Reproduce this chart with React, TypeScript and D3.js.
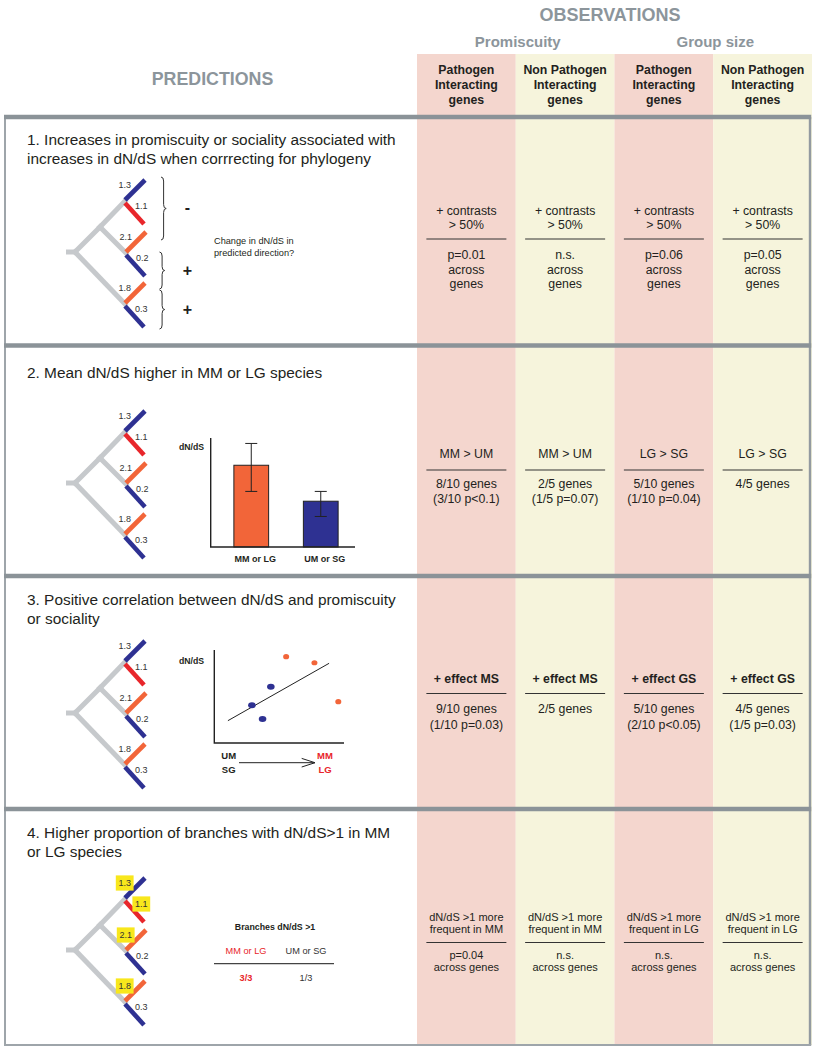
import React from "react";
import * as d3 from "d3";

const FONT = "'Liberation Sans', Arial, Helvetica, sans-serif";
const C_BLUE = "#2e3192";
const C_RED = "#e8262b";
const C_ORANGE = "#f26539";
const C_GRAY_BRANCH = "#c6c9cc";
const C_HEAD = "#8c959b";
const C_PINK = "#f4d6ce";
const C_YELLOW = "#f6f4dc";
const C_SEP = "#8b9398";
const C_TEXT = "#231f20";
const C_HL = "#f8e71c";

// ---------- DATA ----------
const observationTitle = "OBSERVATIONS";
const predictionHeader = "PREDICTIONS";
const groupLabels = ["Promiscuity", "Group size"];
const columnLabels = [
  ["Pathogen", "Interacting", "genes"],
  ["Non Pathogen", "Interacting", "genes"],
  ["Pathogen", "Interacting", "genes"],
  ["Non Pathogen", "Interacting", "genes"],
];
const columnFills = [C_PINK, C_YELLOW, C_PINK, C_YELLOW];

const predictionTitles = [
  ["1. Increases in promiscuity or sociality associated with", "increases in dN/dS when corrrecting for phylogeny"],
  ["2. Mean dN/dS higher in MM or LG species"],
  ["3. Positive correlation between dN/dS and promiscuity", "or sociality"],
  ["4. Higher proportion of branches with dN/dS>1 in MM", "or LG species"],
];

const cellTop = [
  [["+ contrasts", "> 50%"], ["+ contrasts", "> 50%"], ["+ contrasts", "> 50%"], ["+ contrasts", "> 50%"]],
  [["MM > UM"], ["MM > UM"], ["LG > SG"], ["LG > SG"]],
  [["+ effect MS"], ["+ effect MS"], ["+ effect GS"], ["+ effect GS"]],
  [["dN/dS >1 more", "frequent in MM"], ["dN/dS >1 more", "frequent in MM"], ["dN/dS >1 more", "frequent in LG"], ["dN/dS >1 more", "frequent in LG"]],
];
const cellBottom = [
  [["p=0.01", "across", "genes"], ["n.s.", "across", "genes"], ["p=0.06", "across", "genes"], ["p=0.05", "across", "genes"]],
  [["8/10 genes", "(3/10 p<0.1)"], ["2/5 genes", "(1/5 p=0.07)"], ["5/10 genes", "(1/10 p=0.04)"], ["4/5 genes"]],
  [["9/10 genes", "(1/10 p=0.03)"], ["2/5 genes"], ["5/10 genes", "(2/10 p<0.05)"], ["4/5 genes", "(1/5 p=0.03)"]],
  [["p=0.04", "across genes"], ["n.s.", "across genes"], ["n.s.", "across genes"], ["n.s.", "across genes"]],
];

// tree leaves (top to bottom)
const treeLeafLabels = ["1.3", "1.1", "2.1", "0.2", "1.8", "0.3"];
const treeLeafColors = [C_BLUE, C_RED, C_ORANGE, C_BLUE, C_ORANGE, C_BLUE];
const highlightedLeaves = ["1.3", "1.1", "2.1", "1.8"];

// row 1 braces
const braceSigns = ["-", "+", "+"];
const changeText = ["Change in dN/dS in", "predicted direction?"];

// row 2 bar chart
const barCategories = ["MM or LG", "UM or SG"];
const barMeans = [0.75, 0.42];
const barLow = [0.51, 0.28];
const barHigh = [0.95, 0.51];
const barColors = [C_ORANGE, C_BLUE];

// row 3 scatter
const scatterX = [5.54, 7.72, 9.56, 4.36, 2.9, 3.72];
const scatterY = [9.28, 8.63, 4.44, 6.05, 4.05, 2.58];
const scatterGroup = ["MM", "MM", "MM", "UM", "UM", "UM"];
const trendX = [1.05, 8.85];
const trendY = [2.4, 8.57];

// row 4 mini table
const branchesTitle = "Branches dN/dS >1";
const branchesCats = ["MM or LG", "UM or SG"];
const branchesVals = ["3/3", "1/3"];

// ---------- LAYOUT ----------
const W = 816;
const H = 1050;
const FRAME_L = 5;
const FRAME_R = 810;
const FRAME_B = 1045;
const sepY = [117, 345.5, 576, 809];
const colScale = d3.scaleBand<number>().domain([0, 1, 2, 3]).range([417, 812]);

const rowsCfg = [
  { titleY: 140, treeY: 252, ruleY: 239, topY: 210.7, botY: 255, lh: 14.4, fs: 12.3, bold: false },
  { titleY: 373, treeY: 483, ruleY: 470, topY: 454, botY: 484, lh: 15, fs: 12.3, bold: false },
  { titleY: 600, treeY: 713, ruleY: 693.5, topY: 679, botY: 708.5, lh: 15.7, fs: 12.3, bold: true },
  { titleY: 833, treeY: 950, ruleY: 942.5, topY: 916.7, botY: 955, lh: 12.3, fs: 11, bold: false },
];
const TREE_X = 75;

function T(props: any) {
  const { children, ...rest } = props;
  return (
    <text fontFamily={FONT} dy="0.35em" {...rest}>
      {children}
    </text>
  );
}

function Tree({ x, y, highlight }: { x: number; y: number; highlight: boolean }) {
  // topology: root -> (A, D); A -> (B, C); B, C, D each have an upper and a lower leaf
  const R = [0, 0];
  const A = [25, -25];
  const terminals = [
    [50, -51],
    [51, 1],
    [50, 52],
  ];
  const grayEdges = [
    [[-9, 0], R],
    [R, A],
    [A, terminals[0]],
    [A, terminals[1]],
    [R, terminals[2]],
  ];
  const leaves = treeLeafLabels.map((lab, i) => {
    const node = terminals[Math.floor(i / 2)];
    const up = i % 2 === 0;
    const start = up ? [node[0], node[1] - 1] : [node[0], node[1] + 2];
    const tip = up ? [node[0] + 20, node[1] - 21] : [node[0] + 19, node[1] + 23];
    const lx = up ? node[0] + 6 : node[0] + 10;
    const ly = up ? node[1] - 16 : node[1] + 5;
    return { lab, color: treeLeafColors[i], start, tip, lx, ly, up };
  });
  const fs = 9;
  const tw = 12.6;
  return (
    <g transform={`translate(${x},${y})`}>
      {grayEdges.map((e, i) => (
        <line key={i} x1={e[0][0]} y1={e[0][1]} x2={e[1][0]} y2={e[1][1]} stroke={C_GRAY_BRANCH} strokeWidth={5} strokeLinecap={i === 0 ? "butt" : "square"} />
      ))}
      {leaves.map((l, i) => (
        <line key={i} x1={l.start[0]} y1={l.start[1]} x2={l.tip[0]} y2={l.tip[1]} stroke={l.color} strokeWidth={4.6} />
      ))}
      {highlight &&
        leaves
          .filter((l) => highlightedLeaves.includes(l.lab))
          .map((l, i) => {
            const x0 = l.up ? l.lx - tw : l.lx;
            return <rect key={i} x={x0 - 2.6} y={l.ly - 7.6} width={tw + 5.2} height={15.2} fill={C_HL} />;
          })}
      {leaves.map((l, i) => (
        <T key={i} x={l.lx} y={l.ly} fontSize={fs} fill="#333" textAnchor={l.up ? "end" : "start"}>
          {l.lab}
        </T>
      ))}
    </g>
  );
}

function bracePath(x: number, y0: number, y1: number, w: number) {
  const ym = (y0 + y1) / 2;
  const q = 4;
  return `M${x},${y0} Q${x + w},${y0} ${x + w},${y0 + q} L${x + w},${ym - q} Q${x + w},${ym} ${x + 2 * w},${ym} Q${x + w},${ym} ${x + w},${ym + q} L${x + w},${y1 - q} Q${x + w},${y1} ${x},${y1}`;
}

function Braces({ x, y }: { x: number; y: number }) {
  const spans = [
    [-75, -12],
    [0, 37],
    [38, 77],
  ];
  return (
    <g transform={`translate(${x},${y})`}>
      {spans.map((s, i) => (
        <g key={i}>
          <path d={bracePath(i === 0 ? 86 : 84.5, s[0], s[1], 2.6)} fill="none" stroke="#333" strokeWidth={1} />
          <T x={112.5} y={(s[0] + s[1]) / 2 + (i === 0 ? -1 : 0)} fontSize={16} fontWeight="bold" textAnchor="middle" fill={C_TEXT}>
            {braceSigns[i]}
          </T>
        </g>
      ))}
      {changeText.map((t, i) => (
        <T key={i} x={139} y={-11 + i * 12} fontSize={9.2} fill={C_TEXT}>
          {t}
        </T>
      ))}
    </g>
  );
}

function BarChart() {
  const x0 = 210.7, yb = 547, yt = 438, xr = 355;
  const xs = d3.scaleBand<string>().domain(barCategories).range([216.5, 355.5]).paddingInner(0.5).paddingOuter(0.25);
  const ys = d3.scaleLinear().domain([0, 1]).range([yb, yt]);
  return (
    <g>
      {barCategories.map((c, i) => {
        const bx = xs(c)!;
        const bw = xs.bandwidth();
        const cx = bx + bw / 2;
        return (
          <g key={c}>
            <rect x={bx} y={ys(barMeans[i])} width={bw} height={yb - ys(barMeans[i])} fill={barColors[i]} stroke="#222" strokeWidth={1} />
            <line x1={cx} x2={cx} y1={ys(barLow[i])} y2={ys(barHigh[i])} stroke="#222" strokeWidth={1} />
            <line x1={cx - 6} x2={cx + 6} y1={ys(barHigh[i])} y2={ys(barHigh[i])} stroke="#222" strokeWidth={1} />
            <line x1={cx - 6} x2={cx + 6} y1={ys(barLow[i])} y2={ys(barLow[i])} stroke="#222" strokeWidth={1} />
            <T x={cx + 4} y={559} fontSize={9} fontWeight="bold" textAnchor="middle" fill={C_TEXT}>
              {c}
            </T>
          </g>
        );
      })}
      <path d={`M${x0},${yt} V${yb} H${xr}`} fill="none" stroke="#222" strokeWidth={1.4} />
      <T x={204} y={447} fontSize={8.7} fontWeight="bold" textAnchor="end" fill={C_TEXT}>
        dN/dS
      </T>
    </g>
  );
}

function Scatter() {
  const x0 = 214.3, yb = 743, yt = 650, xr = 344;
  const xs = d3.scaleLinear().domain([0, 10]).range([x0, xr]);
  const ys = d3.scaleLinear().domain([0, 10]).range([yb, yt]);
  const line = d3.line<number>().x((d) => xs(trendX[d])).y((d) => ys(trendY[d]));
  return (
    <g>
      <path d={`M${x0},${yt} V${yb} H${xr}`} fill="none" stroke="#222" strokeWidth={1.4} />
      <path d={line([0, 1])!} stroke="#222" strokeWidth={1} fill="none" />
      {scatterX.map((v, i) =>
        scatterGroup[i] === "MM" ? (
          <ellipse key={i} cx={xs(v)} cy={ys(scatterY[i])} rx={3} ry={2.6} fill={C_ORANGE} />
        ) : (
          <ellipse key={i} cx={xs(v)} cy={ys(scatterY[i])} rx={3.8} ry={3} fill={C_BLUE} />
        )
      )}
      <T x={204} y={661} fontSize={8.7} fontWeight="bold" textAnchor="end" fill={C_TEXT}>
        dN/dS
      </T>
      <T x={228.7} y={755.7} fontSize={9.5} fontWeight="bold" textAnchor="middle" fill={C_TEXT}>UM</T>
      <T x={228.7} y={770} fontSize={9.5} fontWeight="bold" textAnchor="middle" fill={C_TEXT}>SG</T>
      <T x={325} y={755.7} fontSize={9.5} fontWeight="bold" textAnchor="middle" fill={C_RED}>MM</T>
      <T x={325} y={770} fontSize={9.5} fontWeight="bold" textAnchor="middle" fill={C_RED}>LG</T>
      <line x1={239} x2={315} y1={762.7} y2={762.7} stroke="#222" strokeWidth={1} />
      <path d="M301.7,758.4 L315,762.7 L301.7,767" fill="none" stroke="#222" strokeWidth={1} />
    </g>
  );
}

function BranchTable() {
  const xs = d3.scalePoint<string>().domain(branchesCats).range([246, 306]);
  return (
    <g>
      <T x={275} y={926.7} fontSize={8.8} fontWeight="bold" textAnchor="middle" fill={C_TEXT}>
        {branchesTitle}
      </T>
      {branchesCats.map((c, i) => (
        <g key={c}>
          <T x={xs(c)} y={951} fontSize={9.2} textAnchor="middle" fill={i === 0 ? C_RED : "#333"}>
            {c}
          </T>
          <T x={xs(c)} y={977.7} fontSize={9.2} fontWeight={i === 0 ? "bold" : "normal"} textAnchor="middle" fill={i === 0 ? C_RED : "#333"}>
            {branchesVals[i]}
          </T>
        </g>
      ))}
      <line x1={214} x2={334} y1={963.7} y2={963.7} stroke="#444" strokeWidth={1.2} />
    </g>
  );
}

export default function App() {
  const cols = [0, 1, 2, 3];
  const bw = colScale.bandwidth();
  return (
    <svg width={W} height={H} viewBox={`0 0 ${W} ${H}`} style={{ position: "absolute", left: 0, top: 0, background: "#fff" }}>
      <rect x={0} y={0} width={W} height={H} fill="#fff" />
      {/* column backgrounds */}
      {cols.map((c) => (
        <rect key={c} x={colScale(c)} y={54} width={bw} height={FRAME_B - 54} fill={columnFills[c]} />
      ))}
      {/* header */}
      <T x={610} y={15} fontSize={18} fontWeight="bold" fill={C_HEAD} textAnchor="middle">
        {observationTitle}
      </T>
      {groupLabels.map((g, i) => (
        <T key={g} x={(colScale(i * 2)! + colScale(i * 2 + 1)! + bw) / 2 + 2} y={42} fontSize={15} fontWeight="bold" fill={C_HEAD} textAnchor="middle">
          {g}
        </T>
      ))}
      <T x={212.5} y={79} fontSize={17.8} fontWeight="bold" fill={C_HEAD} textAnchor="middle">
        {predictionHeader}
      </T>
      {cols.map((c) =>
        columnLabels[c].map((l, j) => (
          <T key={`${c}-${j}`} x={colScale(c)! + bw / 2} y={70 + j * 14.7} fontSize={12.3} fontWeight="bold" fill={C_TEXT} textAnchor="middle">
            {l}
          </T>
        ))
      )}

      {/* rows */}
      {rowsCfg.map((r, ri) => (
        <g key={ri}>
          {predictionTitles[ri].map((t, j) => (
            <T key={j} x={27} y={r.titleY + j * 19} fontSize={15.4} fill={C_TEXT}>
              {t}
            </T>
          ))}
          <Tree x={TREE_X} y={r.treeY} highlight={ri === 3} />
          {cols.map((c) => {
            const cx = colScale(c)! + bw / 2;
            const top = cellTop[ri][c];
            return (
              <g key={c}>
                {top.map((t, j) => (
                  <T key={j} x={cx} y={r.topY + j * r.lh} fontSize={r.fs} fontWeight={r.bold ? "bold" : "normal"} fill={C_TEXT} textAnchor="middle">
                    {t}
                  </T>
                ))}
                <line x1={cx - 40} x2={cx + 40} y1={r.ruleY} y2={r.ruleY} stroke="#333" strokeWidth={1.2} />
                {cellBottom[ri][c].map((t, j) => (
                  <T key={j} x={cx} y={r.botY + j * r.lh} fontSize={r.fs} fill={C_TEXT} textAnchor="middle">
                    {t}
                  </T>
                ))}
              </g>
            );
          })}
        </g>
      ))}
      <Braces x={TREE_X} y={rowsCfg[0].treeY} />
      <BarChart />
      <Scatter />
      <BranchTable />

      {/* frame */}
      <line x1={FRAME_L} x2={FRAME_L} y1={sepY[0]} y2={FRAME_B} stroke="#9ea5aa" strokeWidth={2} />
      <line x1={FRAME_R} x2={FRAME_R} y1={sepY[0]} y2={FRAME_B} stroke="#939aa0" strokeWidth={2.4} />
      <line x1={FRAME_L - 1} x2={FRAME_R + 1.2} y1={FRAME_B} y2={FRAME_B} stroke="#9ea5aa" strokeWidth={2} />
      {sepY.map((y, i) => (
        <line key={i} x1={FRAME_L - 1} x2={FRAME_R + 1.2} y1={y} y2={y} stroke={C_SEP} strokeWidth={4.5} />
      ))}
    </svg>
  );
}
